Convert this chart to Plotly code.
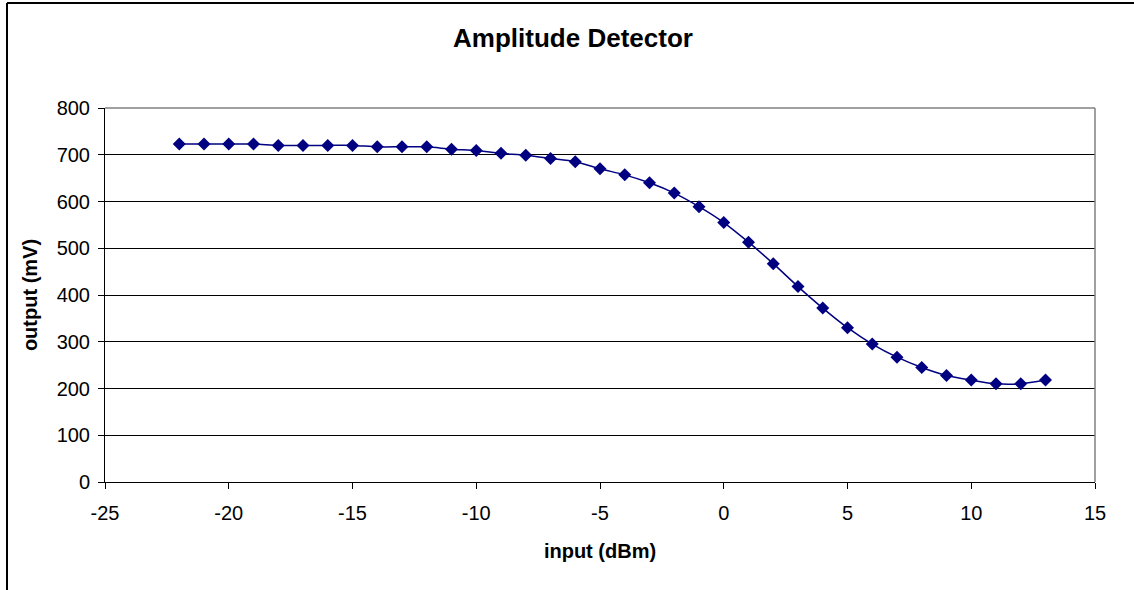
import plotly.graph_objects as go

input_dbm = list(range(-22, 14))
output_mv = [723, 723, 723, 723, 720, 720, 720, 720, 717, 717, 717, 712,
             709, 703, 699, 692, 685, 670, 657, 640, 618, 589, 555, 513,
             467, 418, 372, 330, 295, 267, 245, 228, 218, 210, 210, 218]

x_ticks = [-25, -20, -15, -10, -5, 0, 5, 10, 15]
y_ticks = [0, 100, 200, 300, 400, 500, 600, 700, 800]

NAVY = "#000080"
FONT = "Liberation Sans, Arial, sans-serif"

fig = go.Figure()
fig.add_trace(go.Scatter(
    x=input_dbm, y=output_mv, mode="lines+markers",
    line=dict(color=NAVY, width=1.5, shape="spline", smoothing=0.8),
    marker=dict(symbol="diamond", size=10, color=NAVY),
    showlegend=False,
))

L, R, T, B = 105, 39, 108, 108
W, H = 1134, 590
pw, ph = W - L - R, H - T - B

def px_x(px):
    return (px - L) / pw

def px_y(py):
    return (H - B - py) / ph

fig.update_layout(
    width=W, height=H,
    margin=dict(l=L, r=R, t=T, b=B),
    paper_bgcolor="white", plot_bgcolor="white",
    font=dict(family=FONT, size=20, color="black"),
    title=dict(text="<b>Amplitude Detector</b>", x=px_x(573), xanchor="center",
               xref="paper", y=1 - 38 / H, yanchor="middle",
               font=dict(size=26, family=FONT, color="black")),
    xaxis=dict(
        range=[-25, 15], tickvals=x_ticks, ticktext=[str(v) for v in x_ticks],
        showgrid=False, zeroline=False, showline=True, linecolor="black", linewidth=1,
        ticks="outside", ticklen=6, tickcolor="black", tickwidth=1,
        ticklabelstandoff=7,
        tickfont=dict(size=20, family=FONT),
        title=dict(text="<b>input (dBm)</b>", font=dict(size=20, family=FONT), standoff=20),
    ),
    yaxis=dict(
        range=[0, 800], tickvals=y_ticks, ticktext=[str(v) for v in y_ticks],
        showgrid=True, gridcolor="black", gridwidth=1,
        zeroline=False, showline=True, linecolor="black", linewidth=1,
        ticks="outside", ticklen=6, tickcolor="black", tickwidth=1,
        ticklabelstandoff=4,
        tickfont=dict(size=20, family=FONT),
        title=dict(text="<b>output (mV)</b>", font=dict(size=20, family=FONT), standoff=13),
    ),
    shapes=[
        dict(type="line", xref="paper", yref="paper", x0=0, x1=1, y0=1, y1=1,
             line=dict(color="#808080", width=1.5), layer="above"),
        dict(type="line", xref="paper", yref="paper", x0=1, x1=1, y0=0, y1=1,
             line=dict(color="#808080", width=1.5), layer="above"),
        dict(type="line", xref="paper", yref="paper", x0=px_x(7), x1=px_x(7),
             y0=px_y(3), y1=px_y(600), line=dict(color="black", width=2)),
        dict(type="line", xref="paper", yref="paper", x0=px_x(7), x1=px_x(1140),
             y0=px_y(3), y1=px_y(3), line=dict(color="black", width=2)),
    ],
)

fig.write_html("out.html")
